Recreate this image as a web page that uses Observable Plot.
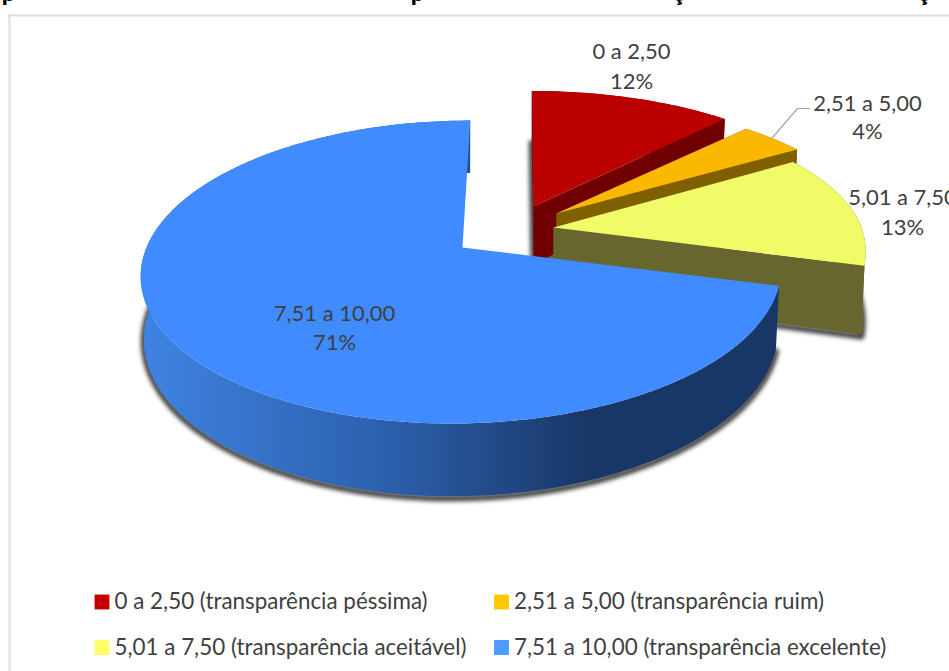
<!DOCTYPE html>
<html lang="pt">
<head>
<meta charset="utf-8">
<script src="https://cdn.jsdelivr.net/npm/d3@7"></script>
<script src="https://cdn.jsdelivr.net/npm/@observablehq/plot@0.6"></script>
<style>
  html, body { margin: 0; padding: 0; background: #fff; overflow: hidden; }
  svg { display: block; }
</style>
</head>
<body>
<div id="chart"></div>
<script>
// ---- data ----
const ranges = ["0 a 2,50", "2,51 a 5,00", "5,01 a 7,50", "7,51 a 10,00"];
const shares = [12, 4, 13, 71];
const legendLabels = [
  "0 a 2,50 (transparência péssima)",
  "2,51 a 5,00 (transparência ruim)",
  "5,01 a 7,50 (transparência aceitável)",
  "7,51 a 10,00 (transparência excelente)"
];
const clippedTitleGlyphs = ["p", "p", "ç", "ç"];

// ---- styles / layout ----
const topColors = ["#bb0000", "#fbb800", "#f1fb67", "#408bff"];
const wallColors = ["#700000", "#7f6000", "#66662e", "url(#blueWall)"];
const legendColors = ["#c60000", "#ffc800", "#ffff66", "#4d9bff"];
const sliceLayout = [
  {ax: 533, ay: 206, sx: 0.995, sy: 0.91, skew: -2, depth: 58},
  {ax: 556, ay: 213, sx: 0.98, sy: 0.88, skew: 0, depth: 58},
  {ax: 553, ay: 227, sx: 0.975, sy: 0.9, skew: 0, depth: 66},
  {ax: 462, ay: 247, sx: 1, sy: 1, skew: 9, depth: 61}
];
const labelLayout = [
  {x: 631, y1: 51, y2: 81},
  {x: 867, y1: 103, y2: 131},
  {x: 902, y1: 197, y2: 227},
  {x: 334, y1: 313, y2: 342}
];
const legendLayout = [
  {x: 101.5, y: 601.5}, {x: 501, y: 601.5},
  {x: 101.5, y: 647}, {x: 501, y: 647}
];
const titleXs = [8, 417, 678, 923];
const leader = [{x: 772, y: 137}, {x: 797, y: 108}, {x: 809, y: 108}];
const RX = 316, RY = 147.5, K = 0.162;
const FONT = "Lato, 'Open Sans', sans-serif";

// ---- geometry derived from the shares ----
const arcs = d3.pie().sort(null).startAngle(0).endAngle(2 * Math.PI)(shares);

function project(s, theta, bottom) {
  const u = Math.sin(theta), v = Math.cos(theta), w = 1 + K * v;
  let dx = s.sx * (RX * u + s.skew * v) / w;
  let y = s.ay - (v > 0 ? s.sy : 1) * RY * v / w;
  if (bottom) { dx *= 0.99; y += s.depth / w; }
  return {x: s.ax + dx, y};
}
function apex(s, bottom) {
  return {x: s.ax, y: s.ay + (bottom ? s.depth : 0)};
}
function arcPoints(s, a0, a1, bottom) {
  const n = Math.max(2, Math.ceil((a1 - a0) / (Math.PI / 180)));
  return d3.range(n + 1).map(i => project(s, a0 + (a1 - a0) * i / n, bottom));
}
const poly = (points, fill) => Plot.line(points, {x: "x", y: "y", fill, stroke: "none", curve: "linear-closed"});

const sliceMarks = arcs.flatMap((arc, i) => {
  const s = sliceLayout[i], a0 = arc.startAngle, a1 = arc.endAngle;
  const reflex = a1 - a0 > Math.PI;
  const shadowPts = reflex
    ? arcPoints(s, a0, a1 - 0.4, true)
    : [apex(s, true), ...arcPoints(s, a0, a1, true)];
  const top = [apex(s, false), ...arcPoints(s, a0, a1, false)];
  const outerWall = [...arcPoints(s, a0, a1, false), ...arcPoints(s, a0, a1, true).reverse()];
  const startWall = [apex(s, false), project(s, a0, false), project(s, a0, true), apex(s, true)];
  const endWall = [apex(s, false), project(s, a1, false), project(s, a1, true), apex(s, true)];
  return [
    Plot.line(shadowPts, {
      x: "x", y: "y", dy: 2, stroke: "#262626", strokeWidth: 6, strokeOpacity: 0.9, fill: "none",
      curve: reflex ? "linear" : "linear-closed", imageFilter: "blur(2px)"
    }),
    poly(outerWall, wallColors[i]),
    ...(reflex ? [] : [poly(startWall, wallColors[i]), poly(endWall, wallColors[i])]),
    poly(top, topColors[i])
  ];
});

const textBase = {fontFamily: FONT, fontSize: 22, fill: "#404040", textAnchor: "middle"};
const labelRows = arcs.map((arc, i) => ({...labelLayout[i], range: ranges[i], pct: `${shares[i]}%`}));
const legendRows = legendLabels.map((label, i) => ({...legendLayout[i], label, color: legendColors[i]}));
const titleRows = clippedTitleGlyphs.map((glyph, i) => ({glyph, x: titleXs[i]}));

const plot = Plot.plot({
  width: 949, height: 671, margin: 0,
  style: {background: "#fff", overflow: "hidden"},
  x: {domain: [0, 949], axis: null},
  y: {domain: [671, 0], axis: null},
  marks: [
    Plot.text(titleRows, {x: "x", y: () => 0, text: "glyph", fontFamily: FONT, fontWeight: 900, fontSize: 24, fill: "#000", lineAnchor: "bottom"}),
    Plot.ruleY([15], {x1: 8, x2: 949, stroke: "#dedede", strokeWidth: 2}),
    Plot.ruleX([9], {y1: 14, y2: 671, stroke: "#dedede", strokeWidth: 2}),
    ...sliceMarks,
    Plot.line(leader, {x: "x", y: "y", stroke: "#a6a6a6", strokeWidth: 1.2}),
    Plot.text(labelRows, {...textBase, x: "x", y: "y1", text: "range"}),
    Plot.text(labelRows, {...textBase, x: "x", y: "y2", text: "pct"}),
    Plot.dot(legendRows, {x: "x", y: "y", symbol: "square", r: 8.4, fill: "color", stroke: "none"}),
    Plot.text(legendRows, {...textBase, fontSize: 22.4, x: d => d.x + 12.5, y: "y", text: "label", textAnchor: "start"})
  ]
});

const defs = d3.select(plot).insert("defs", ":first-child");
const gradient = defs.append("linearGradient").attr("id", "blueWall")
  .attr("gradientUnits", "userSpaceOnUse")
  .attr("x1", 146).attr("x2", 775).attr("y1", 0).attr("y2", 0);
[[0, "#3f82e2"], [0.4, "#2b5ea9"], [0.7, "#193766"], [1, "#193766"]].forEach(([o, c]) =>
  gradient.append("stop").attr("offset", o).attr("stop-color", c));

document.getElementById("chart").append(plot);
</script>
</body>
</html>
